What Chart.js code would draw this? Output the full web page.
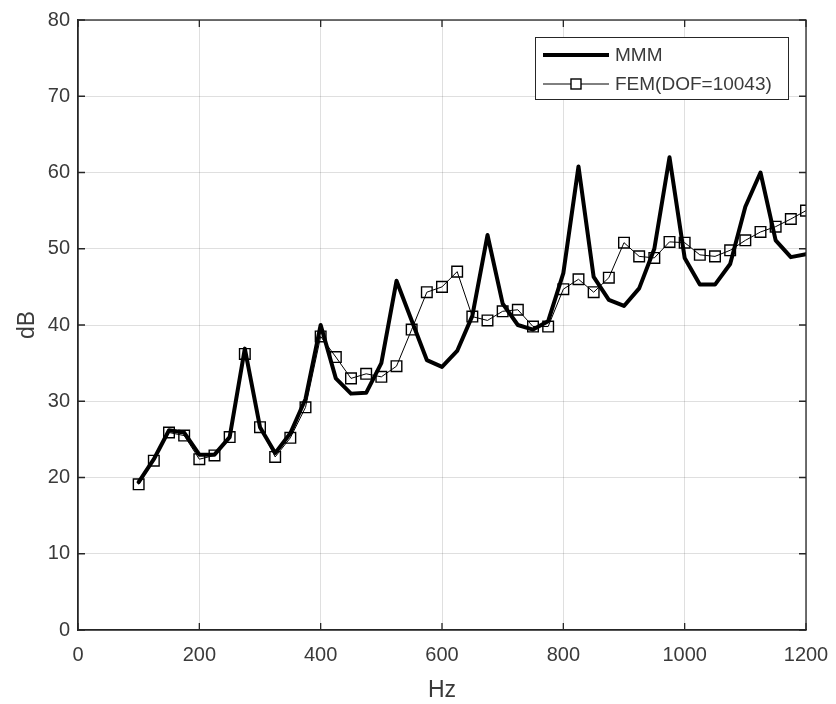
<!DOCTYPE html>
<html>
<head>
<meta charset="utf-8">
<script src="https://cdn.jsdelivr.net/npm/chart.js@4/dist/chart.umd.min.js"></script>
<style>
  body { margin: 0; background: #fff; }
  #wrap { width: 836px; height: 704px; }
</style>
</head>
<body>
<div id="wrap"><canvas id="dbChart"></canvas></div>
<script>
const freqHz = [100, 125, 150, 175, 200, 225, 250, 275, 300, 325, 350, 375, 400, 425, 450,
  475, 500, 525, 550, 575, 600, 625, 650, 675, 700, 725, 750, 775, 800, 825,
  850, 875, 900, 925, 950, 975, 1000, 1025, 1050, 1075, 1100, 1125, 1150, 1175, 1200];

const mmmDb = [19.4, 22.4, 26.2, 25.9, 23.0, 23.0, 25.3, 36.9, 26.6, 23.2, 25.8, 30.3, 40.0, 33.0, 31.0,
  31.1, 35.0, 45.8, 40.6, 35.4, 34.5, 36.6, 41.2, 51.8, 42.8, 40.0, 39.4, 40.5, 46.8, 60.8,
  46.3, 43.3, 42.5, 44.8, 50.0, 62.0, 48.8, 45.3, 45.3, 48.0, 55.5, 60.0, 51.1, 48.9, 49.3];

const femDb = [19.1, 22.2, 25.9, 25.5, 22.4, 22.9, 25.3, 36.2, 26.6, 22.7, 25.2, 29.2, 38.5, 35.8, 33.0,
  33.6, 33.2, 34.6, 39.4, 44.3, 45.0, 47.0, 41.1, 40.6, 41.8, 42.0, 39.8, 39.8, 44.7, 46.0,
  44.3, 46.2, 50.8, 49.0, 48.8, 50.9, 50.8, 49.2, 49.0, 49.8, 51.1, 52.2, 52.9, 53.9, 55.0];

const seriesNames = ['MMM', 'FEM(DOF=10043)'];
const xTicks = [0, 200, 400, 600, 800, 1000, 1200];
const yTicks = [0, 10, 20, 30, 40, 50, 60, 70, 80];

const axisColor = '#262626';
const textColor = '#3a3a3a';
const fontFamily = '"Liberation Sans", Arial, sans-serif';

const toPoints = function (ys) {
  return freqHz.map((f, i) => ({ x: f, y: ys[i] }));
};

// box on top/right plus inward ticks, like a matlab axes
const axesBox = {
  id: 'axesBox',
  afterDatasetsDraw(chart) {
    const { ctx, chartArea: a, scales } = chart;
    ctx.save();
    ctx.strokeStyle = axisColor;
    ctx.lineWidth = 1.3;
    ctx.strokeRect(a.left, a.top, a.right - a.left, a.bottom - a.top);
    const len = 7;
    ctx.beginPath();
    xTicks.forEach(v => {
      const px = scales.x.getPixelForValue(v);
      ctx.moveTo(px, a.bottom); ctx.lineTo(px, a.bottom - len);
      ctx.moveTo(px, a.top); ctx.lineTo(px, a.top + len);
    });
    yTicks.forEach(v => {
      const py = scales.y.getPixelForValue(v);
      ctx.moveTo(a.left, py); ctx.lineTo(a.left + len, py);
      ctx.moveTo(a.right, py); ctx.lineTo(a.right - len, py);
    });
    ctx.stroke();
    ctx.restore();
  }
};

// legend box sits inside the plot, top right
const insideLegend = {
  id: 'insideLegend',
  afterDraw(chart) {
    const { ctx } = chart;
    const bx = 535, by = 37, bw = 253, bh = 62;
    ctx.save();
    ctx.fillStyle = '#fff';
    ctx.fillRect(bx, by, bw, bh);
    ctx.strokeStyle = axisColor;
    ctx.lineWidth = 1;
    ctx.strokeRect(bx + 0.5, by + 0.5, bw, bh);

    chart.data.datasets.forEach((ds, i) => {
      const rowY = by + 18 + i * 29;
      ctx.strokeStyle = ds.borderColor;
      ctx.lineWidth = ds.borderWidth;
      ctx.beginPath();
      ctx.moveTo(bx + 8, rowY);
      ctx.lineTo(bx + 74, rowY);
      ctx.stroke();
      if (ds.pointRadius > 0) {
        ctx.lineWidth = ds.pointBorderWidth;
        ctx.fillStyle = '#fff';
        ctx.fillRect(bx + 36, rowY - 5, 10, 10);
        ctx.strokeRect(bx + 36, rowY - 5, 10, 10);
      }
      ctx.fillStyle = textColor;
      ctx.font = '19px ' + fontFamily;
      ctx.textBaseline = 'middle';
      ctx.fillText(ds.label, bx + 80, rowY + 1);
    });
    ctx.restore();
  }
};

const config = {
  type: 'line',
  data: {
    datasets: [{
      label: seriesNames[0],
      data: toPoints(mmmDb),
      borderColor: '#000',
      borderWidth: 4,
      borderJoinStyle: 'round',
      borderCapStyle: 'round',
      pointRadius: 0,
      tension: 0,
      order: 2
    }, {
      label: seriesNames[1],
      data: toPoints(femDb),
      borderColor: '#000',
      borderWidth: 1,
      pointStyle: 'rect',
      pointRadius: 7.5,
      pointBorderWidth: 1.4,
      pointBorderColor: '#000',
      pointBackgroundColor: 'rgba(0,0,0,0)',
      tension: 0,
      order: 1
    }]
  },
  options: {
    responsive: true,
    maintainAspectRatio: false,
    animation: false,
    layout: { padding: { top: 17, right: 30, left: 0, bottom: 0 } },
    plugins: {
      legend: { display: false },
      tooltip: { enabled: false }
    },
    scales: {
      x: {
        type: 'linear',
        min: 0,
        max: 1200,
        afterBuildTicks: scale => { scale.ticks = xTicks.map(v => ({ value: v })); },
        afterFit: scale => {
          scale.height = 74;
          scale.paddingLeft = 0;
          scale.paddingRight = 0;
        },
        grid: { color: 'rgba(38,38,38,0.15)', drawTicks: false },
        border: { color: axisColor, width: 1.3 },
        ticks: {
          color: textColor,
          padding: 13,
          maxRotation: 0,
          callback: v => String(v),
          font: { size: 20, family: fontFamily }
        },
        title: { display: true, text: 'Hz', color: textColor, padding: 0, font: { size: 23, family: fontFamily } }
      },
      y: {
        min: 0,
        max: 80,
        afterBuildTicks: scale => { scale.ticks = yTicks.map(v => ({ value: v })); },
        afterFit: scale => { scale.width = 78; },
        grid: { color: 'rgba(38,38,38,0.15)', drawTicks: false },
        border: { color: axisColor, width: 1.3 },
        ticks: { color: textColor, padding: 8, font: { size: 20, family: fontFamily } },
        title: { display: true, text: 'dB', color: textColor, padding: { top: 14, bottom: 0 }, font: { size: 23, family: fontFamily } }
      }
    }
  },
  plugins: [axesBox, insideLegend]
};

const dbChart = new Chart(document.getElementById('dbChart'), config);
</script>
</body>
</html>
